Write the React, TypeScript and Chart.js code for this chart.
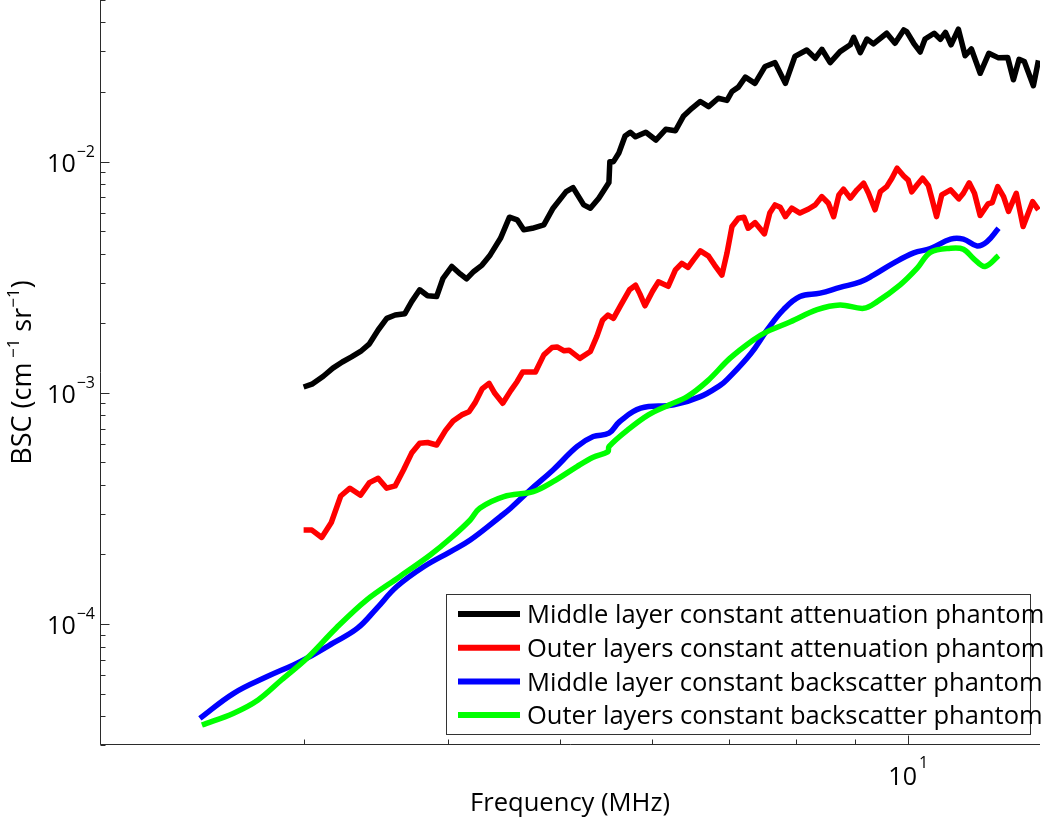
import React, { useEffect, useRef } from 'react';
import { Chart, registerables } from 'chart.js';

Chart.register(...registerables);

// ---------------- data ----------------
const seriesLabels = [
  'Middle layer constant attenuation phantom',
  'Outer layers constant attenuation phantom',
  'Middle layer constant backscatter phantom',
  'Outer layers constant backscatter phantom',
];
const seriesColors = ['#000000', '#ff0000', '#0000ff', '#00ff00'];

// Middle layer constant attenuation phantom (black)
const freqMidAtten = [
  3.00, 3.05, 3.12, 3.18, 3.24, 3.30, 3.36, 3.42, 3.48, 3.54,
  3.60, 3.67, 3.72, 3.78, 3.84, 3.91, 3.96, 4.03, 4.10, 4.15,
  4.21, 4.28, 4.35, 4.44, 4.52, 4.59, 4.65, 4.73, 4.84, 4.93,
  5.06, 5.13, 5.24, 5.31, 5.40, 5.51, 5.52, 5.56, 5.62, 5.69,
  5.75, 5.81, 5.93, 6.05, 6.17, 6.29, 6.39, 6.50, 6.61, 6.72,
  6.85, 6.97, 7.04, 7.13, 7.23, 7.37, 7.52, 7.67, 7.83, 7.98,
  8.17, 8.31, 8.42, 8.56, 8.73, 8.91, 8.97, 9.09, 9.21, 9.33,
  9.58, 9.74, 9.91, 9.97, 10.11, 10.24, 10.34, 10.53, 10.66, 10.77,
  10.89, 11.05, 11.20, 11.34, 11.54, 11.74, 11.97, 12.19, 12.33, 12.47,
  12.60, 12.83, 12.96,
];
const bscMidAtten = [
  1.06e-3, 1.09e-3, 1.18e-3, 1.28e-3, 1.36e-3, 1.43e-3, 1.51e-3, 1.63e-3, 1.87e-3, 2.10e-3,
  2.17e-3, 2.20e-3, 2.48e-3, 2.79e-3, 2.63e-3, 2.61e-3, 3.13e-3, 3.52e-3, 3.26e-3, 3.11e-3,
  3.35e-3, 3.57e-3, 3.95e-3, 4.66e-3, 5.75e-3, 5.60e-3, 5.07e-3, 5.15e-3, 5.33e-3, 6.29e-3,
  7.42e-3, 7.72e-3, 6.50e-3, 6.29e-3, 6.95e-3, 8.12e-3, 1.00e-2, 1.00e-2, 1.09e-2, 1.29e-2,
  1.34e-2, 1.28e-2, 1.34e-2, 1.24e-2, 1.38e-2, 1.36e-2, 1.57e-2, 1.70e-2, 1.82e-2, 1.73e-2,
  1.88e-2, 1.84e-2, 2.01e-2, 2.10e-2, 2.32e-2, 2.18e-2, 2.58e-2, 2.68e-2, 2.18e-2, 2.85e-2,
  3.04e-2, 2.80e-2, 3.06e-2, 2.68e-2, 2.99e-2, 3.20e-2, 3.45e-2, 2.96e-2, 3.39e-2, 3.23e-2,
  3.59e-2, 3.25e-2, 3.71e-2, 3.65e-2, 3.25e-2, 2.98e-2, 3.39e-2, 3.59e-2, 3.38e-2, 3.62e-2,
  3.20e-2, 3.74e-2, 2.87e-2, 3.07e-2, 2.41e-2, 2.94e-2, 2.81e-2, 2.82e-2, 2.26e-2, 2.77e-2,
  2.71e-2, 2.13e-2, 2.74e-2,
];

// Outer layers constant attenuation phantom (red)
const freqOutAtten = [
  3.00, 3.05, 3.11, 3.17, 3.23, 3.29, 3.36, 3.42, 3.48, 3.54,
  3.60, 3.66, 3.72, 3.78, 3.84, 3.91, 3.98, 4.04, 4.11, 4.17,
  4.22, 4.28, 4.34, 4.39, 4.46, 4.53, 4.59, 4.64, 4.76, 4.84,
  4.92, 4.97, 5.04, 5.09, 5.20, 5.31, 5.38, 5.44, 5.50, 5.56,
  5.64, 5.74, 5.81, 5.86, 5.92, 6.01, 6.08, 6.20, 6.29, 6.37,
  6.45, 6.52, 6.61, 6.72, 6.80, 6.90, 6.97, 7.04, 7.13, 7.21,
  7.27, 7.37, 7.51, 7.59, 7.67, 7.75, 7.83, 7.93, 8.06, 8.20,
  8.31, 8.42, 8.53, 8.62, 8.71, 8.79, 8.91, 9.03, 9.15, 9.24,
  9.36, 9.46, 9.58, 9.68, 9.78, 9.91, 10.00, 10.07, 10.18, 10.29,
  10.41, 10.49, 10.58, 10.69, 10.88, 11.06, 11.16, 11.29, 11.41, 11.54,
  11.72, 11.82, 11.95, 12.09, 12.21, 12.40, 12.57, 12.70, 12.81, 12.96,
];
const bscOutAtten = [
  2.55e-4, 2.55e-4, 2.37e-4, 2.75e-4, 3.58e-4, 3.87e-4, 3.61e-4, 4.09e-4, 4.27e-4, 3.87e-4,
  3.96e-4, 4.64e-4, 5.49e-4, 6.06e-4, 6.10e-4, 5.95e-4, 6.88e-4, 7.56e-4, 8.03e-4, 8.28e-4,
  9.05e-4, 1.04e-3, 1.10e-3, 9.96e-4, 9.02e-4, 1.02e-3, 1.12e-3, 1.23e-3, 1.23e-3, 1.46e-3,
  1.57e-3, 1.58e-3, 1.52e-3, 1.53e-3, 1.41e-3, 1.51e-3, 1.76e-3, 2.06e-3, 2.17e-3, 2.10e-3,
  2.39e-3, 2.79e-3, 2.92e-3, 2.68e-3, 2.38e-3, 2.75e-3, 3.02e-3, 2.89e-3, 3.40e-3, 3.63e-3,
  3.49e-3, 3.76e-3, 4.11e-3, 3.90e-3, 3.57e-3, 3.23e-3, 4.02e-3, 5.24e-3, 5.69e-3, 5.75e-3,
  5.15e-3, 5.45e-3, 4.87e-3, 5.99e-3, 6.50e-3, 6.35e-3, 5.78e-3, 6.29e-3, 5.99e-3, 6.24e-3,
  6.50e-3, 7.06e-3, 6.61e-3, 5.78e-3, 7.18e-3, 7.60e-3, 6.95e-3, 7.55e-3, 8.07e-3, 7.30e-3,
  6.19e-3, 7.42e-3, 7.80e-3, 8.48e-3, 9.37e-3, 8.67e-3, 8.32e-3, 7.40e-3, 7.94e-3, 8.48e-3,
  7.87e-3, 6.83e-3, 5.78e-3, 7.18e-3, 7.55e-3, 6.90e-3, 7.30e-3, 8.10e-3, 7.30e-3, 5.85e-3,
  6.56e-3, 6.65e-3, 7.80e-3, 7.06e-3, 6.09e-3, 7.30e-3, 5.24e-3, 5.99e-3, 6.71e-3, 6.19e-3,
];

// Middle layer constant backscatter phantom (blue)
const freqMidBack = [
  2.44, 2.61, 2.79, 2.94, 3.02, 3.18, 3.34, 3.47, 3.61, 3.81,
  4.02, 4.18, 4.44, 4.53, 4.71, 4.93, 5.17, 5.34, 5.51, 5.63,
  5.87, 6.27, 6.61, 6.88, 6.97, 7.31, 7.55, 7.80, 8.06, 8.39,
  8.73, 9.09, 9.33, 9.71, 10.11, 10.45, 10.88, 11.16, 11.47, 11.70,
  11.97,
];
const bscMidBack = [
  3.91e-5, 5.02e-5, 5.93e-5, 6.66e-5, 7.12e-5, 8.27e-5, 9.60e-5, 1.17e-4, 1.45e-4, 1.77e-4,
  2.06e-4, 2.31e-4, 2.92e-4, 3.17e-4, 3.80e-4, 4.64e-4, 5.85e-4, 6.47e-4, 6.69e-4, 7.52e-4,
  8.58e-4, 8.87e-4, 9.63e-4, 1.08e-3, 1.14e-3, 1.48e-3, 1.87e-3, 2.29e-3, 2.61e-3, 2.70e-3,
  2.86e-3, 3.02e-3, 3.23e-3, 3.64e-3, 4.03e-3, 4.21e-3, 4.62e-3, 4.62e-3, 4.32e-3, 4.51e-3,
  5.15e-3,
];

// Outer layers constant backscatter phantom (green)
const freqOutBack = [
  2.45, 2.61, 2.74, 2.87, 3.02, 3.20, 3.40, 3.63, 3.86, 4.02,
  4.18, 4.26, 4.47, 4.74, 4.93, 5.17, 5.34, 5.50, 5.51, 5.72,
  5.96, 6.21, 6.44, 6.71, 7.01, 7.34, 7.55, 7.91, 8.34, 8.73,
  9.15, 9.40, 9.84, 10.18, 10.45, 10.88, 11.16, 11.40, 11.65, 11.97,
];
const bscOutBack = [
  3.66e-5, 4.12e-5, 4.70e-5, 5.73e-5, 7.12e-5, 9.60e-5, 1.27e-4, 1.60e-4, 1.99e-4, 2.35e-4,
  2.82e-4, 3.17e-4, 3.56e-4, 3.74e-4, 4.13e-4, 4.80e-4, 5.27e-4, 5.57e-4, 5.85e-4, 6.91e-4,
  8.03e-4, 8.87e-4, 9.63e-4, 1.13e-3, 1.41e-3, 1.69e-3, 1.84e-3, 2.03e-3, 2.29e-3, 2.40e-3,
  2.32e-3, 2.48e-3, 2.93e-3, 3.46e-3, 4.05e-3, 4.22e-3, 4.18e-3, 3.79e-3, 3.52e-3, 3.92e-3,
];

// axes / ticks
const xMin = 2;
const xMax = 13;
const yMin = 3e-5;
const yMax = 5e-2;
const xMinorTicks = [2, 3, 4, 5, 6, 7, 8, 9];
const xMajorTicks = [10];
const xTickExponents = ['1'];
const yMajorTicks = [1e-4, 1e-3, 1e-2];
const yTickExponents = ['\u22124', '\u22123', '\u22122'];
const xTitle = 'Frequency (MHz)';
const yTitleParts: [string, boolean][] = [
  ['BSC (cm', false],
  [' \u22121', true],
  [' sr', false],
  ['\u22121', true],
  [')', false],
];

// ---------------- styling ----------------
const FONT = '"Open Sans", "Noto Sans", sans-serif';
const AXIS_COLOR = '#2b2b2b';
const LINE_W = 5.5;

function zip(xs: number[], ys: number[]) {
  return xs.map((x, i) => ({ x, y: ys[i] }));
}

function yMinorTicks(): number[] {
  const out: number[] = [];
  for (let e = -5; e <= -1; e++) {
    for (let m = 1; m <= 9; m++) {
      const v = m * Math.pow(10, e);
      if (v >= yMin * 0.999 && v <= yMax * 1.001) out.push(v);
    }
  }
  return out;
}

function fitSize(ctx: CanvasRenderingContext2D, text: string, target: number): number {
  ctx.font = `100px ${FONT}`;
  const w = ctx.measureText(text).width;
  return (100 * target) / w;
}

const decorPlugin = {
  id: 'matlabDecor',
  afterDatasetsDraw(chart: any) {
    const { ctx, chartArea: ca, scales } = chart;
    const xs = scales.x;
    const ys = scales.y;
    ctx.save();

    // axis lines
    const ax = Math.round(ca.left) + 0.5;
    const ay = Math.round(ca.bottom) - 0.5;
    ctx.strokeStyle = AXIS_COLOR;
    ctx.lineWidth = 1;
    ctx.beginPath();
    ctx.moveTo(ax, ca.top);
    ctx.lineTo(ax, ay);
    ctx.lineTo(ca.right, ay);
    ctx.stroke();

    // x ticks (inward)
    ctx.beginPath();
    for (const t of xMinorTicks) {
      const px = Math.round(xs.getPixelForValue(t)) + 0.5;
      ctx.moveTo(px, ay);
      ctx.lineTo(px, ay - 5);
    }
    for (const t of xMajorTicks) {
      const px = Math.round(xs.getPixelForValue(t)) + 0.5;
      ctx.moveTo(px, ay);
      ctx.lineTo(px, ay - 9);
    }
    // y ticks (inward)
    for (const t of yMinorTicks()) {
      const py = Math.round(ys.getPixelForValue(t)) + 0.5;
      const major = yMajorTicks.some((m) => Math.abs(m - t) / t < 1e-6);
      ctx.moveTo(ax, py);
      ctx.lineTo(ax + (major ? 9 : 5), py);
    }
    ctx.stroke();

    // tick labels
    ctx.fillStyle = '#000';
    ctx.textBaseline = 'alphabetic';
    const baseFont = `25px ${FONT}`;
    const supFont = `16px ${FONT}`;
    yMajorTicks.forEach((t, i) => {
      const py = ys.getPixelForValue(t);
      ctx.font = supFont;
      const ws = ctx.measureText(yTickExponents[i]).width;
      ctx.font = baseFont;
      const wb = ctx.measureText('10').width;
      const right = ca.left - 5;
      ctx.textAlign = 'left';
      ctx.fillText('10', right - ws - wb - 1, py + 10);
      ctx.font = supFont;
      ctx.fillText(yTickExponents[i], right - ws, py - 5);
    });
    xMajorTicks.forEach((t, i) => {
      const px = xs.getPixelForValue(t);
      ctx.font = supFont;
      const ws = ctx.measureText(xTickExponents[i]).width;
      ctx.font = baseFont;
      const wb = ctx.measureText('10').width;
      const left = px - (wb + ws + 2) / 2;
      ctx.textAlign = 'left';
      ctx.fillText('10', left, ca.bottom + 40);
      ctx.font = supFont;
      ctx.fillText(xTickExponents[i], left + wb + 2, ca.bottom + 23);
    });

    // x title
    const xtSize = fitSize(ctx, xTitle, 200);
    ctx.font = `${xtSize}px ${FONT}`;
    ctx.textAlign = 'center';
    ctx.fillText(xTitle, (ca.left + ca.right) / 2, ca.bottom + 66);

    // y title (rotated, with superscripts)
    const ytSize = 27;
    const ytSup = 17;
    const widths = yTitleParts.map(([s, sup]) => {
      ctx.font = `${sup ? ytSup : ytSize}px ${FONT}`;
      return ctx.measureText(s).width;
    });
    const total = widths.reduce((a, b) => a + b, 0);
    ctx.save();
    ctx.translate(31, (ca.top + ca.bottom) / 2);
    ctx.rotate(-Math.PI / 2);
    ctx.textAlign = 'left';
    let cx = -total / 2;
    yTitleParts.forEach(([s, sup], i) => {
      ctx.font = `${sup ? ytSup : ytSize}px ${FONT}`;
      ctx.fillText(s, cx, sup ? -12 : 0);
      cx += widths[i];
    });
    ctx.restore();

    // legend
    const bx = 446.5;
    const by = 594.5;
    const bw = 584;
    const bh = 140;
    ctx.fillStyle = '#fff';
    ctx.fillRect(bx, by, bw, bh);
    ctx.strokeStyle = '#333';
    ctx.lineWidth = 1;
    ctx.strokeRect(bx, by, bw, bh);
    const lgSize = fitSize(ctx, seriesLabels[3], 516);
    ctx.font = `${lgSize}px ${FONT}`;
    ctx.textAlign = 'left';
    chart.data.datasets.forEach((ds: any, i: number) => {
      const ry = 614 + i * 33.7;
      ctx.strokeStyle = ds.borderColor;
      ctx.lineWidth = 6;
      ctx.lineCap = 'butt';
      ctx.beginPath();
      ctx.moveTo(458, ry);
      ctx.lineTo(520, ry);
      ctx.stroke();
      ctx.fillStyle = '#000';
      ctx.fillText(ds.label, 527, ry + lgSize * 0.36);
    });

    ctx.restore();
  },
};

export default function App() {
  const ref = useRef<HTMLCanvasElement>(null);

  useEffect(() => {
    if (!ref.current) return;
    const datasets = [
      { label: seriesLabels[0], data: zip(freqMidAtten, bscMidAtten), borderColor: seriesColors[0], tension: 0, order: 3 },
      { label: seriesLabels[1], data: zip(freqOutAtten, bscOutAtten), borderColor: seriesColors[1], tension: 0, order: 2 },
      { label: seriesLabels[2], data: zip(freqMidBack, bscMidBack), borderColor: seriesColors[2], tension: 0.4, order: 1 },
      { label: seriesLabels[3], data: zip(freqOutBack, bscOutBack), borderColor: seriesColors[3], tension: 0.35, order: 0 },
    ].map((d) => ({
      ...d,
      showLine: true,
      borderWidth: LINE_W,
      pointRadius: 0,
      pointHoverRadius: 0,
      borderJoinStyle: 'round' as const,
      borderCapStyle: 'butt' as const,
      fill: false,
    }));

    const chart = new Chart(ref.current, {
      type: 'scatter',
      data: { datasets },
      options: {
        animation: false,
        responsive: false,
        events: [],
        layout: { padding: { top: 0, right: 10, left: 0, bottom: 0 } },
        plugins: { legend: { display: false }, tooltip: { enabled: false } },
        scales: {
          x: {
            type: 'logarithmic',
            min: xMin,
            max: xMax,
            grid: { display: false },
            border: { display: false },
            ticks: { display: false },
            afterFit: (s: any) => {
              s.height = 76;
            },
          },
          y: {
            type: 'logarithmic',
            min: yMin,
            max: yMax,
            grid: { display: false },
            border: { display: false },
            ticks: { display: false },
            afterFit: (s: any) => {
              s.width = 100;
            },
          },
        },
      } as any,
      plugins: [decorPlugin],
    });
    return () => chart.destroy();
  }, []);

  return (
    <div style={{ position: 'fixed', left: 0, top: 0, width: 1050, height: 821, background: '#fff' }}>
      <canvas ref={ref} width={1050} height={821} style={{ display: 'block' }} />
    </div>
  );
}
